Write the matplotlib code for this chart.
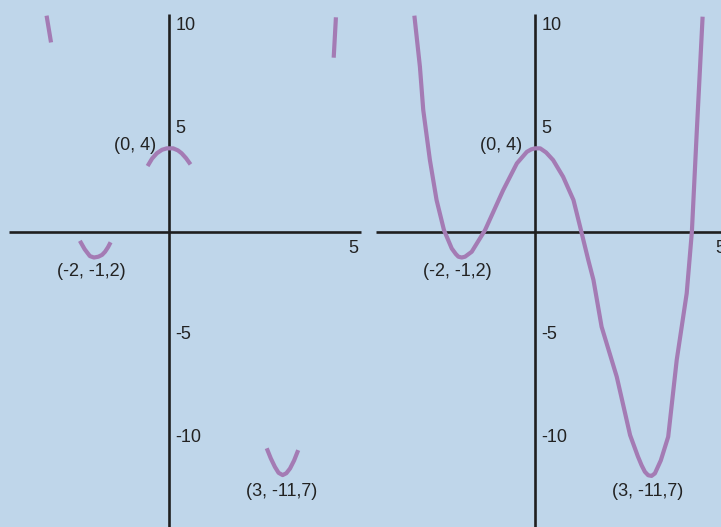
import matplotlib.pyplot as plt

# curve (data units)
curve_x = [-3.26, -3.11, -3.02, -2.84, -2.66, -2.46, -2.25, -2.14, -2.07, -1.98, -1.89, -1.71,
           -1.35, -0.86, -0.49, -0.22, -0.1, 0.0, 0.14, 0.3, 0.49, 0.76, 1.04, 1.22,
           1.44, 1.58, 1.80, 2.21, 2.57, 2.78, 2.88, 2.97, 3.06, 3.15, 3.24, 3.40, 3.60, 3.83,
           4.10, 4.24, 4.37, 4.53]
curve_y = [10.49, 8.01, 5.91, 3.48, 1.54, 0.08, -0.81, -1.08, -1.21, -1.25, -1.21, -0.97,
           0.08, 2.02, 3.32, 3.88, 4.0, 4.05, 4.05, 3.85, 3.48, 2.67, 1.54, 0.24,
           -1.37, -2.34, -4.61, -7.04, -9.87, -10.9, -11.33, -11.65, -11.82, -11.85, -11.73, -11.1, -9.95, -6.23,
           -2.99, 0.0, 4.78, 10.44]

# short pieces shown in the left panel
pieces = [
    ([-3.30, -3.18], [10.49, 9.19]),
    ([4.52, 4.46], [10.41, 8.45]),
    ([-0.57, -0.45, -0.32, -0.18, -0.05, 0.12, 0.25, 0.35, 0.47, 0.59],
     [3.19, 3.55, 3.81, 3.98, 4.05, 4.05, 3.95, 3.81, 3.57, 3.27]),
    ([-2.40, -2.27, -2.13, -2.02, -1.90, -1.80, -1.72, -1.64, -1.57],
     [-0.44, -0.85, -1.18, -1.25, -1.21, -1.12, -0.97, -0.75, -0.51]),
    ([2.65, 2.76, 2.87, 2.97, 3.08, 3.18, 3.28, 3.39, 3.50],
     [-10.51, -11.0, -11.41, -11.7, -11.81, -11.72, -11.49, -11.1, -10.60]),
]

y_ticks = [10, 5, -5, -10]
x_ticks = [5]
point_labels = ["(0, 4)", "(-2, -1,2)", "(3, -11,7)"]
point_pos = [(-0.35, 4.2), (-2.1, -1.95), (3.05, -12.6)]

BG = "#bfd6ea"
CURVE = "#a47bb4"
AXIS = "#1f1f1f"
FONT = "Liberation Sans"

fig = plt.figure(figsize=(7.21, 5.27), dpi=100)
fig.patch.set_facecolor(BG)

ax_left = fig.add_axes([0, 0, 370 / 721, 1])
ax_right = fig.add_axes([370 / 721, 0, 351 / 721, 1])

ylim = (-14.33, 11.25)
ax_left.set_xlim(-4.559, 5.441)
ax_right.set_xlim(-4.459, 5.027)


def draw_axes(ax, x_start, x_end):
    ax.set_ylim(*ylim)
    ax.axis("off")
    ax.set_facecolor(BG)
    ax.plot([x_start, x_end], [0, 0], color=AXIS, lw=1.9, solid_capstyle="butt")
    ax.plot([0, 0], [10.57, ylim[0] - 1], color=AXIS, lw=1.9, solid_capstyle="butt")
    for t in y_ticks:
        ax.text(0.18, t, str(t), fontsize=13, family=FONT, color="#222222",
                ha="left", va="center")
    for t in x_ticks:
        ax.text(t, -0.8, str(t), fontsize=13, family=FONT, color="#222222",
                ha="center", va="center")
    for lab, (px, py) in zip(point_labels, point_pos):
        ha = "right" if lab == "(0, 4)" else "center"
        ax.text(px, py, lab, fontsize=13, family=FONT, color="#222222",
                ha=ha, va="center")


draw_axes(ax_left, -4.32, 5.2)
draw_axes(ax_right, -4.30, 6.0)

for xs, ys in pieces:
    ax_left.plot(xs, ys, color=CURVE, lw=3.0, solid_capstyle="butt",
                 solid_joinstyle="round")

ax_right.plot(curve_x, curve_y, color=CURVE, lw=3.0, solid_capstyle="butt",
              solid_joinstyle="round")

fig.savefig("out.png", dpi=100, facecolor=BG)
